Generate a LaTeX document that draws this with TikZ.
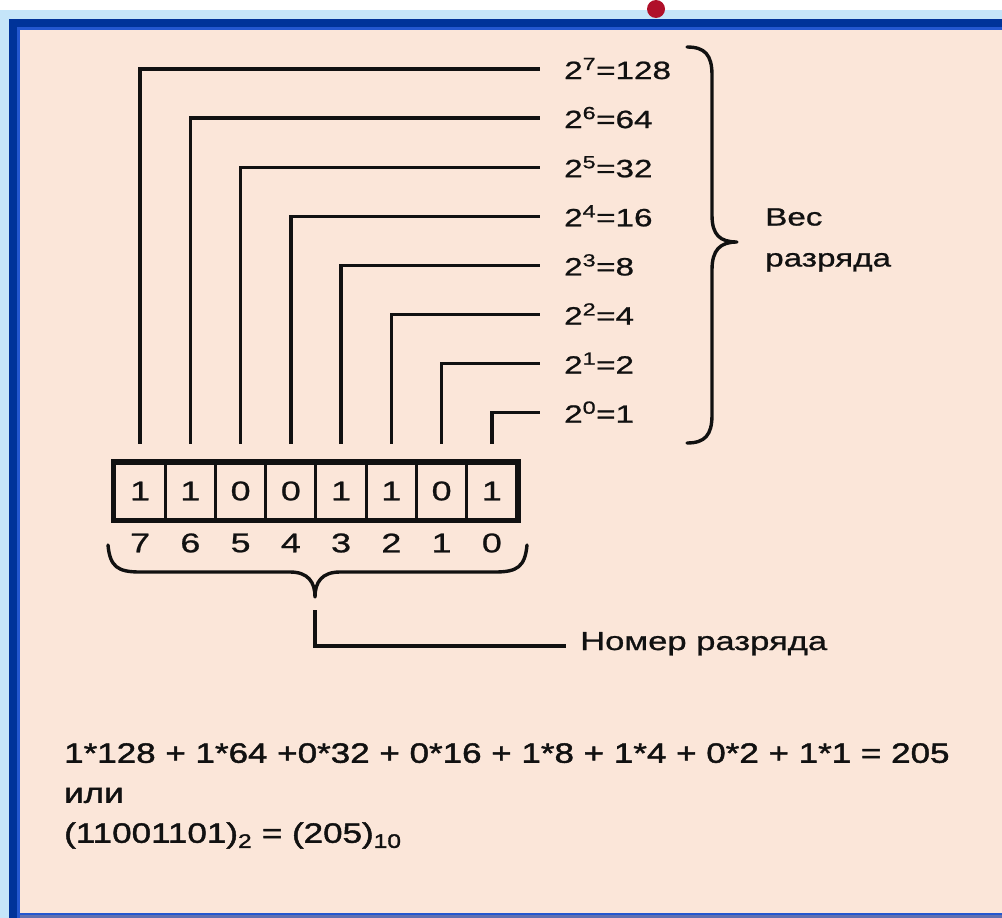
\documentclass[tikz,border=0pt]{standalone}
\usepackage{fontspec}
\setmainfont{Liberation Sans}[FakeStretch=1.33,FakeBold=0.9]
\newfontfamily\eqfont{Liberation Sans}[FakeStretch=1.25,FakeBold=1.6]
\definecolor{skyb}{HTML}{C5E5F9}
\definecolor{frameb}{HTML}{003399}
\definecolor{framel}{HTML}{2457CF}
\definecolor{paper}{HTML}{FBE6D9}
\definecolor{dotred}{HTML}{B0102A}
\definecolor{bottomb}{HTML}{6070B0}
\definecolor{ink}{HTML}{111111}
\begin{document}
\begin{tikzpicture}[x=1pt,y=-1pt,
  wire/.style={draw=ink,line width=3.3pt,line join=miter},
  bracepath/.style={draw=ink,line width=3.4pt,line cap=round,line join=round},
  cell/.style={draw=ink,line width=3pt,minimum width=50.25pt,minimum height=56pt,inner sep=0pt,text=ink,font=\fontsize{27}{30}\selectfont},
  num/.style={inner sep=0pt,text=ink,font=\fontsize{27}{30}\selectfont},
  wlabel/.style={anchor=west,inner sep=0pt,text height=18pt,text depth=0pt,text=ink,font=\fontsize{25}{30}\selectfont},
  txt/.style={inner sep=0pt,text=ink,align=left}]
% background and frame
\fill[skyb] (0,0) rectangle (1002,908);
\fill[dotred] (656,-1) circle (9);
\fill[frameb] (9,9) rectangle (1002,908);
\fill[framel] (17,17) rectangle (1002,908);
\fill[paper] (20,20) rectangle (1002,903);
\fill[bottomb] (20,905) rectangle (1002,908);
% bits, positions and weights
\foreach \k/\b in {0/1,1/1,2/0,3/0,4/1,5/1,6/0,7/1} {
  \pgfmathsetmacro\cx{140.1+50.25*\k}
  \pgfmathtruncatemacro\n{7-\k}
  \pgfmathtruncatemacro\pw{2^\n}
  \pgfmathsetmacro\wy{61+49.1*\k}
  \node[cell] (c\n) at (\cx,481) {\b};
  \node[num] (n\n) at (\cx,533) {\n};
  \node[wlabel] (w\n) at (564,\wy-1) {2\textsuperscript{\n}=\pw};
  \draw[wire] ([yshift=18pt]c\n.north) |- ([xshift=-24pt,yshift=1pt]w\n.west);
}
\draw[draw=ink,line width=5.5pt] (c7.north west) rectangle (c0.south east);
% right brace
\draw[bracepath] (687,37) .. controls (705,37) and (712,45) .. (712,65) -- (712,205)
  .. controls (712,225) and (720,232) .. (737,232)
  .. controls (720,232) and (712,240) .. (712,260) -- (712,405)
  .. controls (712,425) and (705,433) .. (687,433);
\node[txt,anchor=west,font=\fontsize{25}{41}\selectfont] (ves) at (765,230) {Вес\\разряда};
% bottom brace
\draw[bracepath] (108,535) .. controls (110,557) and (118,562) .. (140,562) -- (290,562)
  .. controls (308,562) and (315,572) .. (315,587)
  .. controls (315,572) and (322,562) .. (340,562) -- (495,562)
  .. controls (517,562) and (525,557) .. (527,535);
\coordinate (brtip) at (315,600);
\node[txt,anchor=base west,font=\fontsize{26}{30}\selectfont] (nomer) at (580,640) {Номер разряда};
\draw[wire] (brtip) |- ([xshift=-14pt,yshift=4pt]nomer.base west);
% formulas
\node[txt,anchor=north west,font=\eqfont\fontsize{28}{40}\selectfont] (eq) at (64,733)
  {1*128 + 1*64 +0*32 + 0*16 + 1*8 + 1*4 + 0*2 + 1*1 = 205\\
   или\\
   (11001101)\textsubscript{2} = (205)\textsubscript{10}};
\end{tikzpicture}
\end{document}
